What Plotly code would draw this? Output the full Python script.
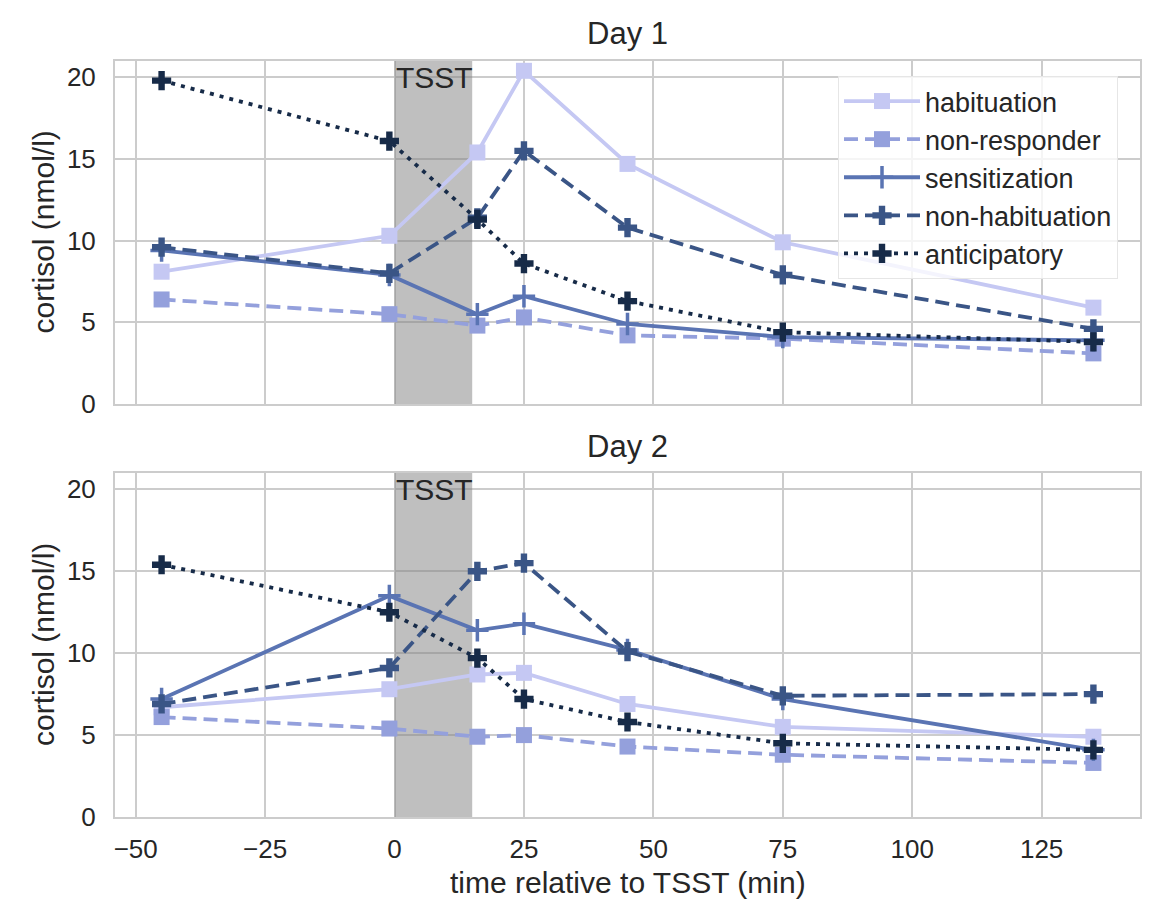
import plotly.graph_objects as go

times = [-45, -1, 16, 25, 45, 75, 135]
groups = ["habituation", "non-responder", "sensitization", "non-habituation", "anticipatory"]

day1 = {
    "habituation":     [8.1, 10.3, 15.4, 20.4, 14.7, 9.9, 5.9],
    "non-responder":   [6.4, 5.5, 4.8, 5.3, 4.2, 4.0, 3.1],
    "sensitization":   [9.4, 7.9, 5.5, 6.6, 4.9, 4.1, 3.9],
    "non-habituation": [9.6, 8.0, 11.4, 15.5, 10.8, 7.9, 4.6],
    "anticipatory":    [19.8, 16.1, 11.3, 8.6, 6.3, 4.4, 3.8],
}
day2 = {
    "habituation":     [6.7, 7.8, 8.7, 8.8, 6.9, 5.5, 4.9],
    "non-responder":   [6.1, 5.4, 4.9, 5.0, 4.3, 3.8, 3.3],
    "sensitization":   [7.2, 13.5, 11.4, 11.8, 10.2, 7.2, 4.1],
    "non-habituation": [6.9, 9.1, 15.0, 15.5, 10.1, 7.4, 7.5],
    "anticipatory":    [15.4, 12.5, 9.7, 7.2, 5.8, 4.5, 4.1],
}
panel_titles = ["Day 1", "Day 2"]
tsst_start, tsst_end = 0, 15
x_ticks = [-50, -25, 0, 25, 50, 75, 100, 125]
y_ticks = [0, 5, 10, 15, 20]
x_range = [-54, 144]
y_range = [0, 21]

colors = {
    "habituation": "#c5c8f3",
    "non-responder": "#94a0dc",
    "sensitization": "#5a74b3",
    "non-habituation": "#3a5586",
    "anticipatory": "#172b48",
}
dashes = {
    "habituation": "solid",
    "non-responder": "14px,7px",
    "sensitization": "solid",
    "non-habituation": "14px,7px",
    "anticipatory": "4px,6px",
}
symbols = {
    "habituation": "square",
    "non-responder": "square",
    "sensitization": "cross-thin",
    "non-habituation": "cross",
    "anticipatory": "cross",
}

FONT = "Liberation Sans, Arial, sans-serif"
TXT = "#262626"
GRID = "#cccccc"

W, H = 1160, 908
ML, MR, MT, MB = 115, 20, 61, 91
PW, PH = W - ML - MR, H - MT - MB

def py(pix):
    return (H - MB - pix) / PH

def px(pix):
    return (pix - ML) / PW

fig = go.Figure()

for i, data in enumerate([day1, day2]):
    xa = "x" if i == 0 else "x2"
    ya = "y" if i == 0 else "y2"
    # TSST shaded interval (drawn first: above grid, below lines)
    fig.add_trace(go.Scatter(
        x=[tsst_start, tsst_end, tsst_end, tsst_start, tsst_start],
        y=[y_range[0], y_range[0], y_range[1], y_range[1], y_range[0]],
        mode="lines", fill="toself", fillcolor="rgba(128,128,128,0.5)",
        line=dict(width=0), hoverinfo="skip", showlegend=False,
        xaxis=xa, yaxis=ya,
    ))
    for g in groups:
        sym = symbols[g]
        if sym == "square":
            marker = dict(symbol=sym, size=16, color=colors[g])
        elif sym == "cross-thin":
            marker = dict(symbol=sym, size=16, color=colors[g],
                          line=dict(color=colors[g], width=3.5))
        else:
            marker = dict(symbol=sym, size=16, color=colors[g])
        fig.add_trace(go.Scatter(
            x=times, y=data[g], mode="lines+markers", name=g,
            line=dict(color=colors[g], width=3.8, dash=dashes[g]),
            marker=marker, xaxis=xa, yaxis=ya,
            showlegend=(i == 0),
        ))

axis_common = dict(
    showgrid=True, gridcolor=GRID, gridwidth=1.5,
    showline=True, linecolor=GRID, linewidth=2, mirror=True,
    zeroline=False, ticks="", tickfont=dict(family=FONT, size=26, color=TXT),
)

top_dom = [py(404), 1.0]
bot_dom = [0.0, py(473)]

fig.update_layout(
    width=W, height=H,
    margin=dict(l=ML, r=MR, t=MT, b=MB),
    paper_bgcolor="white", plot_bgcolor="white",
    font=dict(family=FONT, color=TXT),
    xaxis=dict(axis_common, range=x_range, tickvals=x_ticks, showticklabels=False,
               anchor="y", matches="x2"),
    yaxis=dict(axis_common, range=y_range, tickvals=y_ticks, domain=top_dom, anchor="x",
               ticklabelstandoff=12),
    xaxis2=dict(axis_common, range=x_range, tickvals=x_ticks, anchor="y2",
                ticktext=[str(v).replace("-", "\u2212") for v in x_ticks],
                ticklabelstandoff=8),
    yaxis2=dict(axis_common, range=y_range, tickvals=y_ticks, domain=bot_dom, anchor="x2",
                ticklabelstandoff=12),
    legend=dict(
        x=px(838), y=py(76), xanchor="left", yanchor="top",
        bgcolor="rgba(255,255,255,0.8)", bordercolor="#e6e6e6", borderwidth=1,
        font=dict(family=FONT, size=27, color=TXT), itemwidth=76, tracegroupgap=0,
    ),
)

annotations = []
for xr, yr in [("x", "y"), ("x2", "y2")]:
    annotations.append(dict(x=tsst_start, y=20, xref=xr, yref=yr, text="TSST", showarrow=False,
                            xanchor="left", yanchor="middle", xshift=-1,
                            font=dict(family=FONT, size=30, color=TXT)))

annotations.append(dict(x=0.5, y=py(34), xref="paper", yref="paper", text=panel_titles[0],
                        showarrow=False, xanchor="center", yanchor="middle",
                        font=dict(family=FONT, size=31, color=TXT)))
annotations.append(dict(x=0.5, y=py(446), xref="paper", yref="paper", text=panel_titles[1],
                        showarrow=False, xanchor="center", yanchor="middle",
                        font=dict(family=FONT, size=31, color=TXT)))
for yc in [(61 + 404) / 2, (473 + 817) / 2]:
    annotations.append(dict(x=px(43), y=py(yc), xref="paper", yref="paper",
                            text="cortisol (nmol/l)", textangle=-90, showarrow=False,
                            xanchor="center", yanchor="middle",
                            font=dict(family=FONT, size=30, color=TXT)))
annotations.append(dict(x=0.5, y=py(882), xref="paper", yref="paper",
                        text="time relative to TSST (min)", showarrow=False,
                        xanchor="center", yanchor="middle",
                        font=dict(family=FONT, size=30, color=TXT)))

fig.update_layout(annotations=annotations)
fig.write_html("out.html")
